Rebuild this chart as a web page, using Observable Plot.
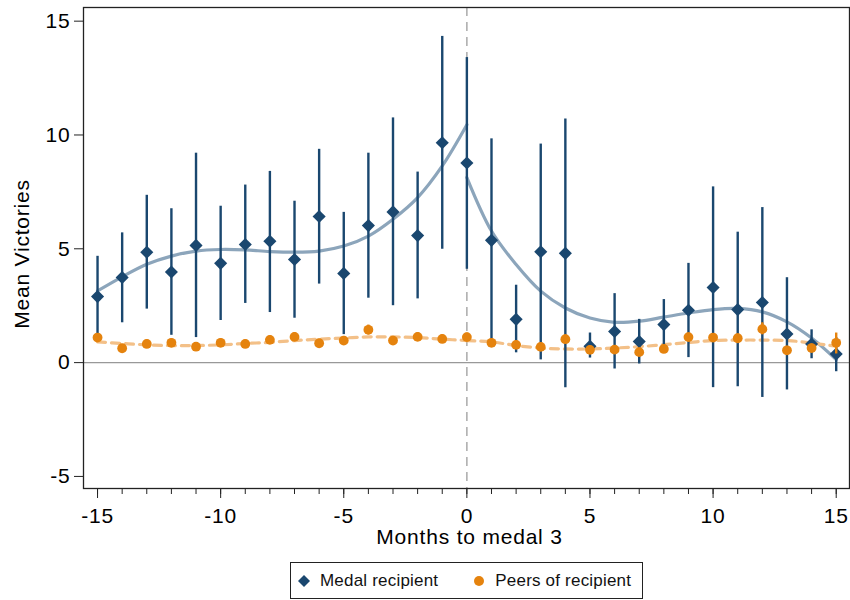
<!DOCTYPE html>
<html>
<head>
<meta charset="utf-8">
<script src="https://cdn.jsdelivr.net/npm/d3@7"></script>
<script src="https://cdn.jsdelivr.net/npm/@observablehq/plot@0.6"></script>
<style>
  body { margin: 0; background: #fff; font-family: "Liberation Sans", Arial, sans-serif; }
  #wrap { position: relative; width: 850px; height: 600px; }
  #chart svg text { letter-spacing: 0.8px; }
  #legend { position: absolute; left: 290px; top: 562px; width: 351px; height: 35px;
    border: 1.3px solid #222; display: flex; align-items: center; font-size: 17px; color: #111; letter-spacing: 0.2px; }
  #legend span.item { display: inline-flex; align-items: center; }
  #legend svg { display: block; }
</style>
</head>
<body>
<div id="wrap">
  <div id="chart"></div>
  <div id="legend">
    <span class="item" style="margin-left:6px"><svg width="14" height="14"><path d="M7,1L13,7L7,13L1,7Z" fill="#1a476f"/></svg><span style="margin-left:9px">Medal recipient</span></span>
    <span class="item" style="margin-left:35px"><svg width="12" height="12"><circle cx="6" cy="6" r="5" fill="#e5830e"/></svg><span style="margin-left:10px">Peers of recipient</span></span>
  </div>
</div>
<script>
const months = [-15,-14,-13,-12,-11,-10,-9,-8,-7,-6,-5,-4,-3,-2,-1,0,1,2,3,4,5,6,7,8,9,10,11,12,13,14,15];
const medalMean = [2.9,3.74,4.85,3.98,5.15,4.36,5.19,5.33,4.53,6.42,3.92,6.02,6.62,5.58,9.66,8.77,5.37,1.9,4.87,4.8,0.72,1.37,0.93,1.67,2.3,3.3,2.33,2.64,1.26,0.82,0.38];
const medalLow  = [1.2,1.75,2.35,1.2,1.1,1.85,2.6,2.2,1.95,3.45,1.23,2.83,2.5,2.8,4.98,4.1,1.0,0.43,0.12,-1.1,0.2,-0.28,-0.06,0.53,0.22,-1.1,-1.06,-1.53,-1.2,0.17,-0.4];
const medalHigh = [4.67,5.7,7.35,6.76,9.2,6.87,7.8,8.4,7.09,9.37,6.6,9.2,10.75,8.37,14.33,13.4,9.83,3.4,9.6,10.7,1.3,3.03,1.9,2.77,4.36,7.72,5.73,6.81,3.73,1.44,1.1];
const peerMean = [1.1,0.63,0.82,0.87,0.7,0.87,0.82,1.0,1.13,0.85,0.97,1.44,0.97,1.13,1.04,1.12,0.87,0.78,0.69,1.03,0.56,0.57,0.46,0.6,1.12,1.1,1.07,1.47,0.54,0.64,0.87];
const peerLow  = [0.9,0.45,0.62,0.68,0.52,0.68,0.63,0.82,0.94,0.67,0.78,1.22,0.78,0.94,0.86,0.92,0.68,0.6,0.5,0.84,0.38,0.38,0.28,0.42,0.92,0.9,0.88,1.22,0.36,0.46,0.38];
const peerHigh = [1.28,0.8,1.0,1.05,0.88,1.05,1.0,1.18,1.32,1.03,1.15,1.65,1.15,1.32,1.22,1.3,1.05,0.96,0.87,1.22,0.74,0.75,0.64,0.78,1.3,1.28,1.26,1.75,0.72,0.82,1.3];

const fitMonthsPre  = [-15,-14,-13,-12,-11,-10,-9,-8,-7,-6,-5,-4,-3,-2,-1,0];
const fitMonthsPost = [0,1,2,3,4,5,6,7,8,9,10,11,12,13,14,15];
const medalFitPre  = [3.15,3.77,4.32,4.68,4.9,4.97,4.95,4.88,4.85,4.9,5.12,5.56,6.3,7.25,8.64,10.45];
const medalFitPost = [8.13,5.78,4.31,3.14,2.4,1.96,1.77,1.82,2.0,2.18,2.33,2.38,2.23,1.79,1.08,0.13];
const peerFitPre  = [0.91,0.84,0.78,0.75,0.75,0.78,0.84,0.89,0.97,1.03,1.08,1.13,1.13,1.1,1.03,0.97];
const peerFitPost = [0.97,0.91,0.75,0.64,0.6,0.6,0.64,0.7,0.79,0.88,0.97,0.99,0.99,0.97,0.86,0.72];

const xMajor = [-15,-10,-5,0,5,10,15];
const yTicks = [-5,0,5,10,15];
const fmt = d => d < 0 ? "-" + Math.abs(d) : String(d);

const navy = "#1a476f", orange = "#e5830e";
const navyFit = "#8ca5bb", orangeFit = "#f3c088";

const pts = months.map((m, i) => ({m, mm: medalMean[i], ml: medalLow[i], mh: medalHigh[i], pm: peerMean[i], pl: peerLow[i], ph: peerHigh[i]}));
const fitRows = (xs, ys, seg) => xs.map((x, i) => ({x, y: ys[i], seg}));
const medalFit = [...fitRows(fitMonthsPre, medalFitPre, "pre"), ...fitRows(fitMonthsPost, medalFitPost, "post")];
const peerFit = [...fitRows(fitMonthsPre, peerFitPre, "pre"), ...fitRows(fitMonthsPost, peerFitPost, "post")];

const chart = Plot.plot({
  width: 850, height: 555,
  marginLeft: 83, marginRight: 1, marginTop: 7, marginBottom: 67,
  style: {fontFamily: "'Liberation Sans', Arial, sans-serif", color: "#000", background: "#fff"},
  x: {domain: [-15.57, 15.54]},
  y: {domain: [-5.53, 15.6]},
  marks: [
    Plot.ruleY([0], {stroke: "#999", strokeWidth: 1.3}),
    Plot.ruleX([0], {stroke: "#aaa", strokeWidth: 1.5, strokeDasharray: "9,6"}),
    Plot.line(medalFit, {x: "x", y: "y", z: "seg", stroke: navyFit, strokeWidth: 3.2, curve: "catmull-rom"}),
    Plot.line(peerFit, {x: "x", y: "y", z: "seg", stroke: orangeFit, strokeWidth: 3.2, strokeDasharray: "8,6", curve: "catmull-rom"}),
    Plot.ruleX(pts, {x: "m", y1: "ml", y2: "mh", stroke: navy, strokeWidth: 2.4}),
    Plot.dot(pts, {x: "m", y: "mm", symbol: "diamond2", r: 5.9, fill: navy, stroke: "none"}),
    Plot.ruleX(pts, {x: "m", y1: "pl", y2: "ph", stroke: orange, strokeWidth: 2.4}),
    Plot.dot(pts, {x: "m", y: "pm", r: 4.9, fill: orange, stroke: "none"}),
    Plot.frame({stroke: "#222", strokeWidth: 1.3}),
    Plot.axisY({ticks: yTicks, tickSize: 9, tickPadding: 4, fontSize: 21, tickFormat: fmt, label: null, stroke: "#222"}),
    Plot.axisX({ticks: months, tickSize: 6, tickFormat: () => "", label: null, stroke: "#222"}),
    Plot.axisX({ticks: xMajor, tickSize: 10, tickPadding: 10, fontSize: 21, tickFormat: fmt, label: null, stroke: "#222"}),
    Plot.text(["Mean Victories"], {frameAnchor: "left", textAnchor: "middle", lineAnchor: "middle", rotate: -90, dx: -61, dy: 6, fontSize: 21, fill: "#000"}),
    Plot.text(["Months to medal 3"], {frameAnchor: "bottom", textAnchor: "middle", lineAnchor: "middle", dy: 49, dx: 3, fontSize: 21, fill: "#000"})
  ]
});
document.getElementById("chart").appendChild(chart);
</script>
</body>
</html>
